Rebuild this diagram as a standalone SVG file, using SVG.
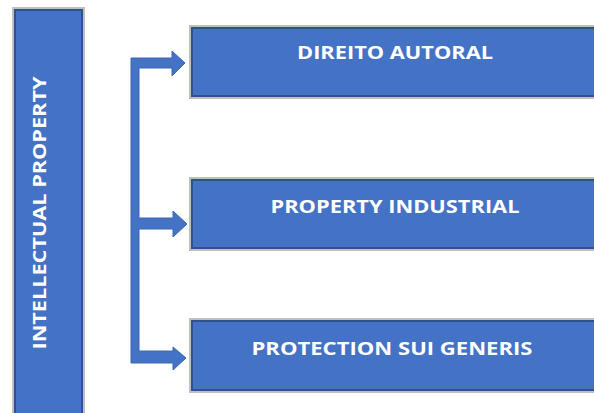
<svg xmlns="http://www.w3.org/2000/svg" width="594" height="413" viewBox="0 0 594 413">
<style>
.box{fill:#4472C4;stroke:#2F528F;stroke-width:2}
.shadow{fill:none;stroke:#BFBFBF;stroke-width:2}
.lbl{fill:#FFFFFF;font-family:"Open Sans","Liberation Sans",sans-serif;font-weight:bold;font-size:17px;text-anchor:middle}
.conn{fill:#4472C4;stroke:#3A66B5;stroke-width:1}
</style>
<rect width="594" height="413" fill="#FFFFFF"/>
<g id="intellectual-property">
<rect class="shadow" x="13" y="8" width="71" height="410"/>
<rect class="box" x="15" y="10" width="67" height="410"/>
<text class="lbl" transform="translate(46,213) rotate(-90)" textLength="273" lengthAdjust="spacingAndGlyphs">INTELLECTUAL PROPERTY</text>
</g>
<g id="direito-autoral">
<rect class="shadow" x="190" y="26" width="406" height="72"/>
<rect class="box" x="192" y="28" width="404" height="68"/>
<text class="lbl" x="395" y="59" textLength="196" lengthAdjust="spacingAndGlyphs">DIREITO AUTORAL</text>
</g>
<g id="property-industrial">
<rect class="shadow" x="190" y="178" width="406" height="72"/>
<rect class="box" x="192" y="180" width="404" height="68"/>
<text class="lbl" x="395" y="213" textLength="249" lengthAdjust="spacingAndGlyphs">PROPERTY INDUSTRIAL</text>
</g>
<g id="protection-sui-generis">
<rect class="shadow" x="190" y="319" width="406" height="73"/>
<rect class="box" x="192" y="321" width="404" height="69"/>
<text class="lbl" x="392" y="355" textLength="281" lengthAdjust="spacingAndGlyphs">PROTECTION SUI GENERIS</text>
</g>
<g id="connectors">
<path class="conn" d="M131,58 H172 V51 L185,63 L172,76 V68 H139 V218 H173 V211 L187,224 L173,237 V229 H139 V351 H173 V347 L186,358 L173,370 V363 H131 Z"/>
</g>
</svg>
